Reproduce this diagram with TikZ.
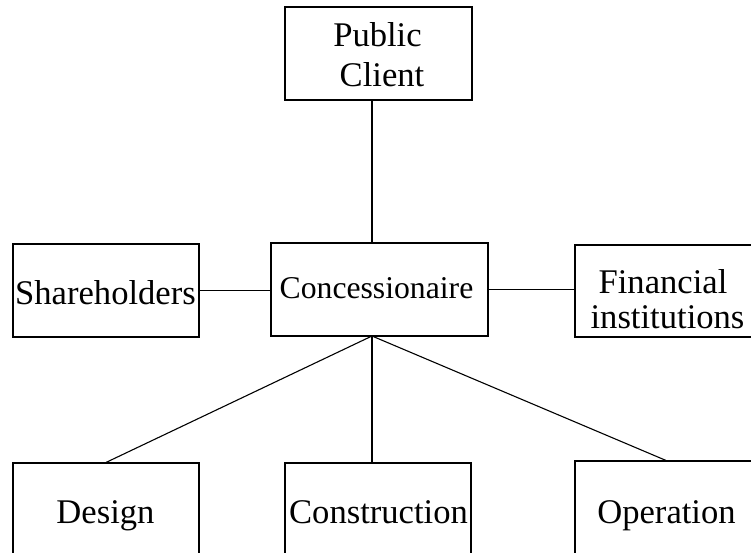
\documentclass[tikz,border=0pt]{standalone}
\usepackage{fontspec}
\setmainfont{Liberation Serif}
\begin{document}
\begin{tikzpicture}[x=1pt,y=-1pt,
  box/.style={draw=black, line width=1.1pt, inner sep=0pt, minimum width=#1},
  lbl/.style={anchor=base, inner sep=0pt, font=\fontsize{34.6}{40}\selectfont},
  lblsmall/.style={anchor=base, inner sep=0pt, font=\fontsize{31.7}{36}\selectfont},
  conn/.style={draw=black, line width=1.1pt}]
\useasboundingbox (0,0) rectangle (751,553);
\clip (0,0) rectangle (751,553);
% boxes
\node[box=187pt, minimum height=93pt] (pc) at (378.5,53.5) {};
\node[box=217pt, minimum height=93pt] (con) at (379.5,289.5) {};
\node[box=186pt, minimum height=93pt] (sh) at (106,290.5) {};
\node[box=182pt, minimum height=92pt] (fi) at (666,291) {};
\node[box=186pt, minimum height=96pt] (des) at (106,511) {};
\node[box=186pt, minimum height=96pt] (cons) at (378,511) {};
\node[box=182pt, minimum height=98pt] (op) at (666,510) {};
% texts
\node[lbl] (t1) at (377.5,47) {Public};
\node[lbl] (t2) at (382,87) {Client};
\node[lblsmall] (t3) at (376.5,298) {Concessionaire};
\node[lbl] (t4) at (105.5,304) {Shareholders};
\node[lbl] (t5) at (663,293) {Financial};
\node[lbl] (t6) at (667.5,328) {institutions};
\node[lbl] (t7) at (105.5,523) {Design};
\node[lbl] (t8) at (378.5,523) {Construction};
\node[lbl] (t9) at (666.5,523) {Operation};
% connectors
\coordinate (hub) at (372,336);
\draw[conn] (pc.south -| hub) -- (con.north -| hub);
\draw[conn] (sh.east) -- (sh.east -| con.west);
\draw[conn] (con.east) -- (con.east -| fi.west);
\draw[conn] (hub) -- (des.north);
\draw[conn] (hub) -- (cons.north -| hub);
\draw[conn] (hub) -- (op.north);
\end{tikzpicture}
\end{document}
